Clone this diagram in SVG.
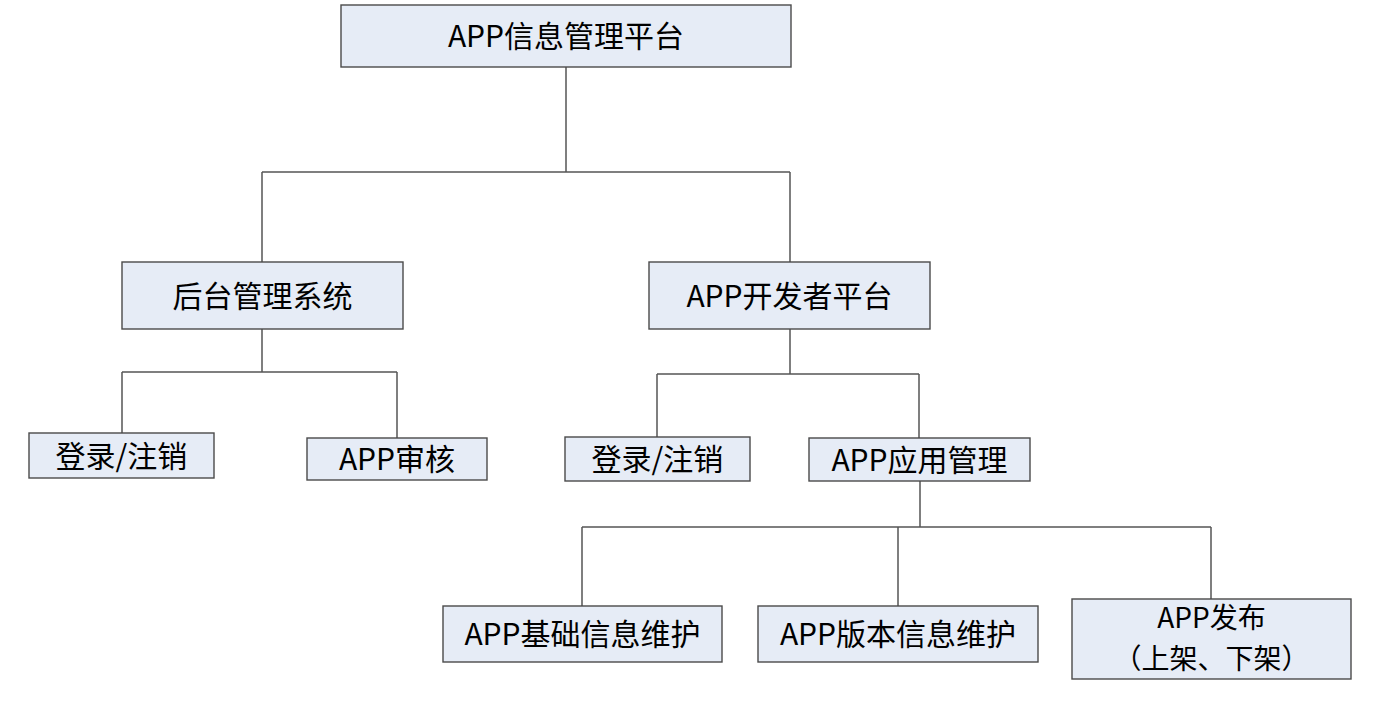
<svg xmlns="http://www.w3.org/2000/svg" width="1381" height="709" viewBox="0 0 1381 709">
<style>
.box{fill:#e6ecf6;stroke:#4a4a4a;stroke-width:1.4}
.t{font-family:"Noto Sans CJK SC","Liberation Sans",sans-serif;font-size:30px;fill:#000;text-anchor:middle}
.s{font-size:28px}
.c{fill:none;stroke:#555;stroke-width:1.5}
</style>
<rect width="1381" height="709" fill="#fff"/>
<g id="connectors">
<path class="c" d="M566,67V172M262,172H790M262,172V262M790,172V262"/>
<path class="c" d="M262,329V372M122,372H397M122,372V433M397,372V438"/>
<path class="c" d="M790,329V374M657,374H919M657,374V437M919,374V438"/>
<path class="c" d="M920,481V527M582,527H1211M582,527V606M898,527V606M1211,527V599"/>
</g>
<g id="root"><rect class="box" x="341" y="5" width="450" height="62"/><text class="t" x="566" y="47">APP信息管理平台</text></g>
<g id="backend"><rect class="box" x="122" y="262" width="281" height="67"/><text class="t" x="262.5" y="307">后台管理系统</text></g>
<g id="devplatform"><rect class="box" x="649" y="262" width="281" height="67"/><text class="t" x="789.5" y="307">APP开发者平台</text></g>
<g id="login1"><rect class="box" x="29" y="433" width="185" height="45"/><text class="t" x="121.5" y="466.5">登录/注销</text></g>
<g id="appreview"><rect class="box" x="307" y="438" width="180" height="42"/><text class="t" x="397" y="470">APP审核</text></g>
<g id="login2"><rect class="box" x="565" y="437" width="185" height="44"/><text class="t" x="657.5" y="470">登录/注销</text></g>
<g id="appmanage"><rect class="box" x="809" y="438" width="221" height="43"/><text class="t" x="919.5" y="470.5">APP应用管理</text></g>
<g id="baseinfo"><rect class="box" x="443" y="606" width="279" height="56"/><text class="t" x="582.5" y="645">APP基础信息维护</text></g>
<g id="versioninfo"><rect class="box" x="758" y="606" width="280" height="56"/><text class="t" x="898" y="645">APP版本信息维护</text></g>
<g id="publish"><rect class="box" x="1072" y="599" width="279" height="80"/><text class="t s" x="1211.5" y="628">APP发布</text><text class="t s" x="1211.5" y="669">（上架、下架）</text></g>
</svg>
